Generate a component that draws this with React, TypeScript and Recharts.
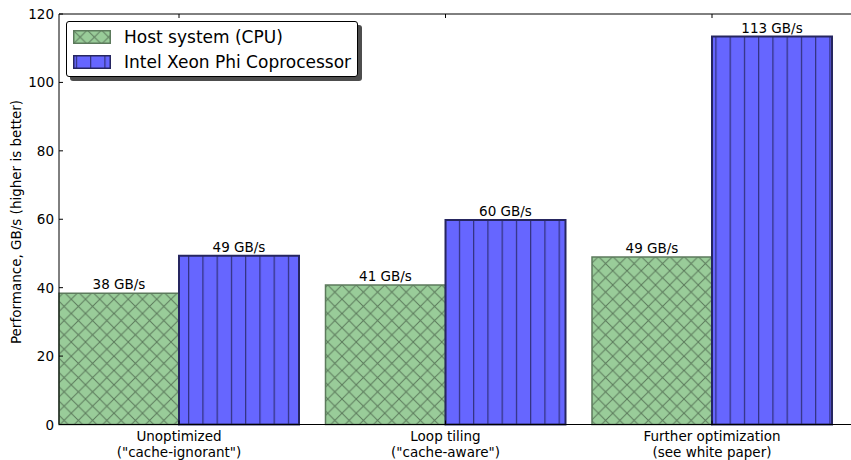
import { Bar, BarChart, LabelList, XAxis, YAxis } from "recharts";

const categories = [
  'Unoptimized\n("cache-ignorant")',
  'Loop tiling\n("cache-aware")',
  "Further optimization\n(see white paper)",
];
const hostValues = [38.4, 40.8, 49.0];
const phiValues = [49.3, 59.8, 113.4];
const seriesNames = ["Host system (CPU)", "Intel Xeon Phi Coprocessor"];
const yTicks = [0, 20, 40, 60, 80, 100, 120];
const yLabel = "Performance, GB/s (higher is better)";

const data = categories.map((name, i) => ({
  name,
  host: hostValues[i],
  phi: phiValues[i],
}));

const FONT = '"DejaVu Sans", sans-serif';
const HOST_EDGE = "#5c7a5c";
const PHI_EDGE = "#262660";

function YTick({ x, y, payload }: any) {
  return (
    <g>
      <text
        x={x}
        y={y}
        textAnchor="end"
        dominantBaseline="central"
        fontSize={13.5}
        fontFamily={FONT}
        fill="#000"
      >
        {payload.value}
      </text>
      <line x1={x + 5} x2={x + 9} y1={y} y2={y} stroke="#000" />
    </g>
  );
}

function BottomTick({ x, y, payload }: any) {
  const lines = String(payload.value).split("\n");
  return (
    <g>
      <line x1={x} x2={x} y1={y} y2={y - 4} stroke="#000" />
      {lines.map((line, i) => (
        <text
          key={i}
          x={x}
          y={y + 16.5 + i * 15.5}
          textAnchor="middle"
          fontSize={13.5}
          fontFamily={FONT}
          fill="#000"
        >
          {line}
        </text>
      ))}
    </g>
  );
}

function TopTick({ x, y }: any) {
  return <line x1={x} x2={x} y1={y} y2={y + 4} stroke="#000" />;
}

const fmt = (v: any) => `${Math.round(Number(v))} GB/s`;

export default function App() {
  const swatches = [
    { fill: "url(#hatchHost)", stroke: HOST_EDGE },
    { fill: "url(#hatchPhi)", stroke: PHI_EDGE },
  ];
  return (
    <div
      style={{
        position: "absolute",
        left: 0,
        top: 0,
        width: 851,
        height: 460,
        overflow: "hidden",
        background: "#fff",
        fontFamily: FONT,
      }}
    >
      <BarChart
        width={870}
        height={460}
        data={data}
        margin={{ top: 13, right: 11.5, bottom: 0, left: 0 }}
        barCategoryGap={13.25}
        barGap={0}
      >
        <defs>
          <pattern
            id="hatchHost"
            width={14.25}
            height={14.25}
            patternUnits="userSpaceOnUse"
          >
            <rect width={14.25} height={14.25} fill="#99cc99" />
            <path
              d="M-1,-1 L15.25,15.25 M15.25,-1 L-1,15.25"
              stroke={HOST_EDGE}
              strokeWidth={1}
            />
          </pattern>
          <pattern
            id="hatchPhi"
            width={14.25}
            height={10}
            patternUnits="userSpaceOnUse"
          >
            <rect width={14.25} height={10} fill="#6666ff" />
            <line x1={3.5} x2={3.5} y1={0} y2={10} stroke={PHI_EDGE} strokeWidth={1} />
          </pattern>
        </defs>
        <XAxis
          dataKey="name"
          height={35.5}
          interval={0}
          padding={{ left: -13.25, right: 13.25 }}
          tickLine={false}
          tickSize={0}
          tickMargin={0}
          axisLine={{ stroke: "#000", strokeWidth: 1 }}
          tick={<BottomTick />}
        />
        <XAxis
          xAxisId="top"
          orientation="top"
          dataKey="name"
          height={1}
          interval={0}
          padding={{ left: -13.25, right: 13.25 }}
          tickLine={false}
          tickSize={0}
          tickMargin={0}
          axisLine={{ stroke: "#000", strokeWidth: 1 }}
          tick={<TopTick />}
        />
        <YAxis
          width={59}
          domain={[0, 120]}
          ticks={yTicks}
          interval={0}
          tickLine={false}
          tickSize={0}
          tickMargin={5}
          axisLine={{ stroke: "#000", strokeWidth: 1 }}
          tick={<YTick />}
        />
        <Bar
          dataKey="host"
          name={seriesNames[0]}
          fill="url(#hatchHost)"
          stroke={HOST_EDGE}
          strokeWidth={1.5}
          isAnimationActive={false}
        >
          <LabelList
            dataKey="host"
            position="top"
            offset={4}
            formatter={fmt}
            fill="#000"
            fontSize={13.5}
            fontFamily={FONT}
          />
        </Bar>
        <Bar
          dataKey="phi"
          name={seriesNames[1]}
          fill="url(#hatchPhi)"
          stroke={PHI_EDGE}
          strokeWidth={2}
          isAnimationActive={false}
        >
          <LabelList
            dataKey="phi"
            position="top"
            offset={4}
            formatter={fmt}
            fill="#000"
            fontSize={13.5}
            fontFamily={FONT}
          />
        </Bar>
      </BarChart>

      <svg
        width={40}
        height={460}
        style={{ position: "absolute", left: 0, top: 0 }}
      >
        <text
          x={16}
          y={222}
          transform="rotate(-90 16 222)"
          textAnchor="middle"
          dominantBaseline="central"
          fontSize={13.5}
          fontFamily={FONT}
          fill="#000"
        >
          {yLabel}
        </text>
      </svg>

      <div
        style={{
          position: "absolute",
          left: 66,
          top: 21,
          width: 292,
          height: 56,
          boxSizing: "border-box",
          border: "1px solid #000",
          borderRadius: 3,
          background: "#fff",
          boxShadow: "4px 4px 0 #4d4d4d",
        }}
      >
        {seriesNames.map((name, i) => (
          <div
            key={name}
            style={{
              position: "absolute",
              left: 6,
              top: 4 + i * 25,
              height: 22,
              display: "flex",
              alignItems: "center",
              whiteSpace: "nowrap",
            }}
          >
            <svg width={38} height={14} style={{ display: "block" }}>
              <rect
                x={0.75}
                y={0.75}
                width={36.5}
                height={12.5}
                fill={swatches[i].fill}
                stroke={swatches[i].stroke}
                strokeWidth={1.5}
              />
            </svg>
            <span style={{ marginLeft: 13, fontSize: 17, color: "#000" }}>
              {name}
            </span>
          </div>
        ))}
      </div>
    </div>
  );
}
